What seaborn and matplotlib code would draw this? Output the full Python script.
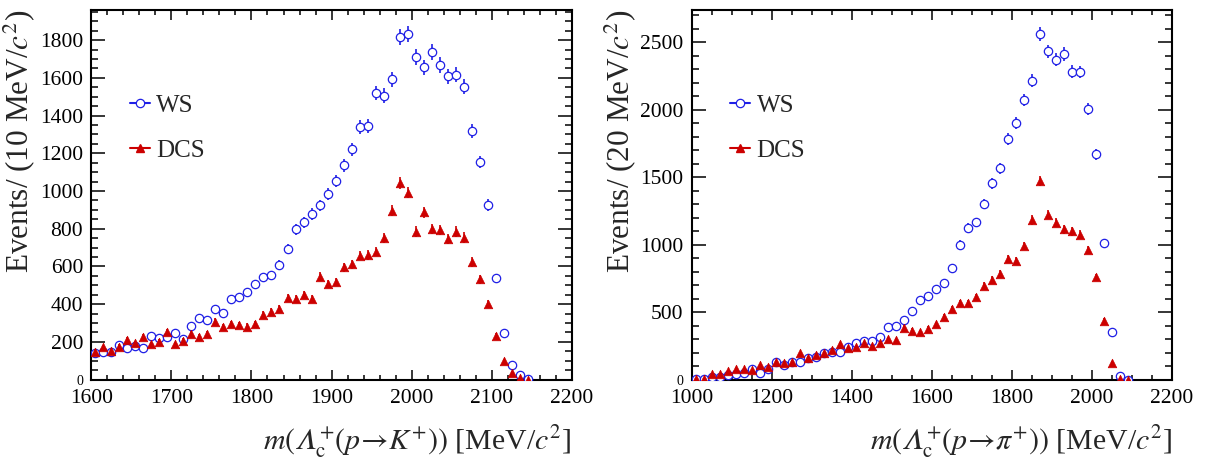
import matplotlib
matplotlib.use("Agg")
import matplotlib.pyplot as plt
import numpy as np
import pandas as pd
import seaborn as sns
from matplotlib.lines import Line2D
from matplotlib.ticker import MultipleLocator

# bin centres (10 MeV bins for p->K, 20 MeV bins for p->pi)
K_MASS = list(range(1605, 2150, 10))
PI_MASS = list(range(1010, 2100, 20))

WS_K = [140, 145, 148, 184, 166, 178, 166, 231, 219, 228,
        246, 214, 286, 324, 317, 373, 352, 428, 440, 462,
        506, 543, 552, 610, 695, 796, 835, 878, 924, 985,
        1054, 1136, 1221, 1341, 1347, 1520, 1506, 1593, 1817, 1832,
        1711, 1656, 1736, 1669, 1608, 1616, 1552, 1318, 1154, 927,
        539, 249, 77, 22, 3]
DCS_K = [148, 171, 152, 175, 210, 193, 228, 187, 201, 254,
         187, 207, 242, 228, 242, 308, 278, 295, 290, 281,
         295, 343, 361, 375, 432, 426, 449, 426, 546, 506,
         517, 596, 612, 658, 660, 679, 750, 895, 1042, 992,
         785, 888, 798, 794, 746, 785, 753, 624, 532, 401,
         233, 99, 37, 7, 0]

WS_PI = [7, 7, 20, 20, 33, 45, 50, 75, 50, 82,
         127, 107, 127, 132, 161, 166, 194, 206, 201, 238,
         268, 288, 285, 315, 392, 397, 442, 511, 593, 623,
         672, 714, 826, 1000, 1124, 1166, 1302, 1454, 1565, 1783,
         1905, 2071, 2217, 2560, 2433, 2371, 2414, 2282, 2280, 2007,
         1672, 1012, 355, 27, 0]
DCS_PI = [7, 7, 38, 45, 62, 82, 77, 72, 107, 94,
          132, 124, 132, 194, 161, 181, 199, 218, 261, 231,
          243, 268, 248, 273, 300, 293, 385, 362, 350, 375,
          409, 467, 521, 568, 568, 610, 697, 739, 784, 896,
          881, 990, 1183, 1471, 1223, 1164, 1116, 1099, 1074, 963,
          757, 437, 124, 7, 0]

WS_COLOR = "#1f1fe6"
DCS_COLOR = "#cc0000"
LAMBDA_IT = "\U0001D6EC"  # mathematical italic capital lambda

sns.set_style("ticks")
plt.rcParams["font.family"] = ["Liberation Serif", "DejaVu Serif"]
plt.rcParams["mathtext.fontset"] = "stix"


def make_frame(mass, ws, dcs):
    df = pd.DataFrame({"mass": mass * 2, "count": ws + dcs,
                       "sample": ["WS"] * len(ws) + ["DCS"] * len(dcs)})
    df["err"] = np.sqrt(df["count"])
    return df


def draw_panel(ax, df, xlim, ylim, xmaj, xmin, ymaj, ymin, xlabel, ylabel):
    ws = df[df["sample"] == "WS"]
    dcs = df[df["sample"] == "DCS"]
    ax.errorbar(ws["mass"], ws["count"], yerr=ws["err"], fmt="none",
                ecolor=WS_COLOR, elinewidth=1.2, capsize=0, zorder=2)
    sns.scatterplot(data=ws, x="mass", y="count", ax=ax, marker="o", s=36,
                    facecolor="white", edgecolor=WS_COLOR, linewidth=0.9, zorder=3)
    ax.errorbar(dcs["mass"], dcs["count"], yerr=dcs["err"], fmt="none",
                ecolor=DCS_COLOR, elinewidth=1.2, capsize=0, zorder=4)
    sns.scatterplot(data=dcs, x="mass", y="count", ax=ax, marker="^", s=38,
                    color=DCS_COLOR, edgecolor=DCS_COLOR, linewidth=0.5, zorder=5)

    ax.set_xlim(*xlim)
    ax.set_ylim(*ylim)
    ax.xaxis.set_major_locator(MultipleLocator(xmaj))
    ax.xaxis.set_minor_locator(MultipleLocator(xmin))
    ax.yaxis.set_major_locator(MultipleLocator(ymaj))
    ax.yaxis.set_minor_locator(MultipleLocator(ymin))
    ax.tick_params(which="both", direction="in", top=True, right=True,
                   width=1.1, colors="black", labelsize=15.5)
    ax.tick_params(axis="x", which="major", length=7.5, pad=7)
    ax.tick_params(axis="x", which="minor", length=3.8)
    ax.tick_params(axis="y", which="major", length=10, pad=6)
    ax.tick_params(axis="y", which="minor", length=5)
    for sp in ax.spines.values():
        sp.set_linewidth(1.5)
        sp.set_color("black")
    ax.grid(False)

    ax.figure.canvas.draw()
    for lab in ax.get_yticklabels():
        if lab.get_text() == "0":
            lab.set_fontsize(10)

    ax.set_xlabel(xlabel, fontsize=21.5, loc="right")
    ax.xaxis.set_label_coords(1.0, -0.12)
    ax.set_ylabel(ylabel, fontsize=22.5, loc="top")
    ax.yaxis.set_label_coords(-0.113, 1.0)

    handles = [
        Line2D([], [], color=WS_COLOR, marker="o", mfc="white", mec=WS_COLOR,
               markersize=6, lw=1.5, mew=0.9),
        Line2D([], [], color=DCS_COLOR, marker="^", mfc=DCS_COLOR, mec=DCS_COLOR,
               markersize=6, lw=1.5),
    ]
    ax.legend(handles, ["WS", "DCS"], loc="center left",
              bbox_to_anchor=(0.08, 0.68), frameon=False, fontsize=18,
              handlelength=0.8, handletextpad=0.25, labelspacing=0.9,
              borderpad=0, borderaxespad=0)


fig = plt.figure(figsize=(12.07, 4.58), dpi=100)
ax1 = fig.add_axes([0.0758, 0.1712, 0.3977, 0.8070])
ax2 = fig.add_axes([0.5733, 0.1712, 0.3977, 0.8070])

draw_panel(ax1, make_frame(K_MASS, WS_K, DCS_K), (1600, 2200), (0, 1960),
           100, 20, 200, 50,
           r"$m(" + LAMBDA_IT + r"_{\mathrm{c}}^{+}(p\!\rightarrow\! K^{+}))$ [MeV/$c^{2}$]",
           r"Events/ (10 MeV/$c^{2}$)")
draw_panel(ax2, make_frame(PI_MASS, WS_PI, DCS_PI), (1000, 2200), (0, 2740),
           200, 50, 500, 100,
           r"$m(" + LAMBDA_IT + r"_{\mathrm{c}}^{+}(p\!\rightarrow\! \pi^{+}))$ [MeV/$c^{2}$]",
           r"Events/ (20 MeV/$c^{2}$)")

fig.savefig("out.png", dpi=100)
plt.close(fig)
